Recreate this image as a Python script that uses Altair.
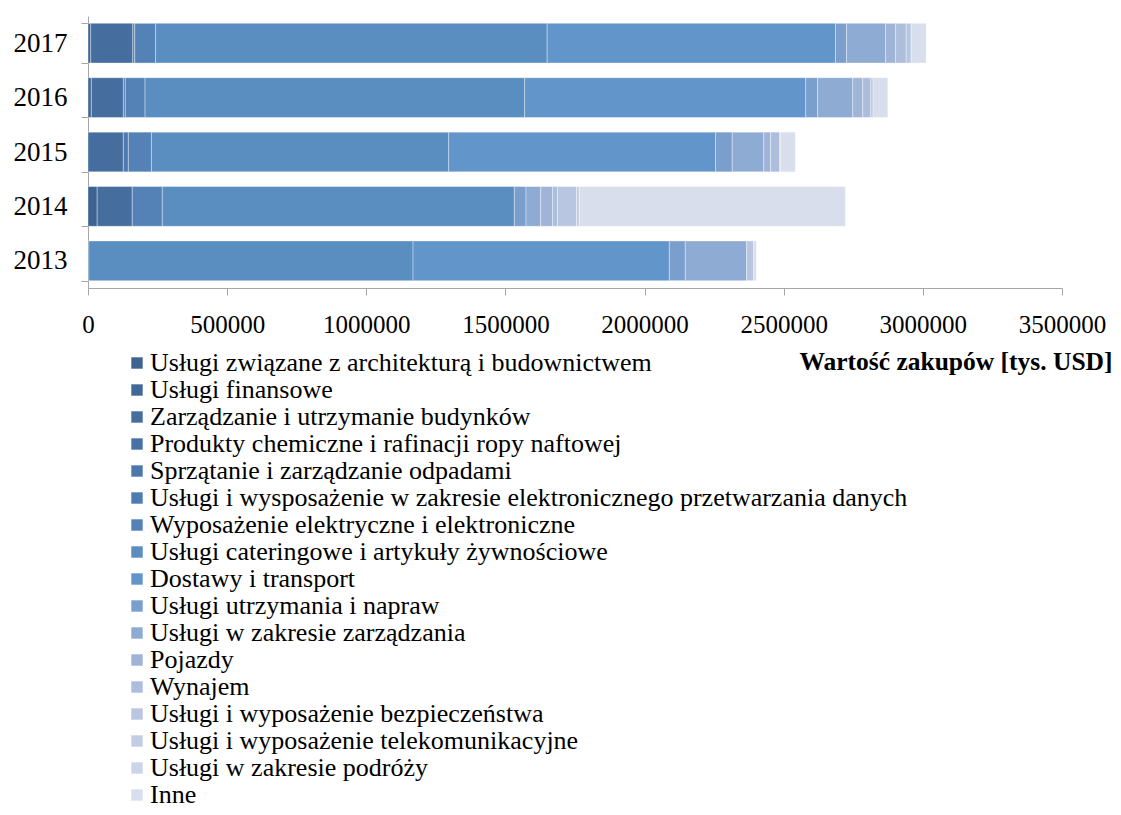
import altair as alt
import pandas as pd

years = ["2013", "2014", "2015", "2016", "2017"]
categories = [
    "Usługi związane z architekturą i budownictwem",
    "Usługi finansowe",
    "Zarządzanie i utrzymanie budynków",
    "Produkty chemiczne i rafinacji ropy naftowej",
    "Sprzątanie i zarządzanie odpadami",
    "Usługi i wysposażenie w zakresie elektronicznego przetwarzania danych",
    "Wyposażenie elektryczne i elektroniczne",
    "Usługi cateringowe i artykuły żywnościowe",
    "Dostawy i transport",
    "Usługi utrzymania i napraw",
    "Usługi w zakresie zarządzania",
    "Pojazdy",
    "Wynajem",
    "Usługi i wyposażenie bezpieczeństwa",
    "Usługi i wyposażenie telekomunikacyjne",
    "Usługi w zakresie podróży",
    "Inne",
]
# values per category for 2013..2017 (tys. USD)
v_arch = [3000, 33000, 0, 0, 0]
v_fin = [0, 0, 0, 12000, 10000]
v_bud = [0, 126000, 127000, 115000, 151000]
v_chem = [0, 0, 0, 0, 0]
v_sprz = [0, 0, 0, 0, 0]
v_edp = [0, 0, 18000, 7000, 7000]
v_elek = [0, 108000, 83000, 71000, 75000]
v_cat = [1165000, 1265000, 1068000, 1364000, 1407000]
v_dost = [921000, 0, 959000, 1010000, 1036000]
v_napr = [57500, 42000, 60000, 43000, 40000]
v_zarz = [220000, 52500, 113000, 126000, 140000]
v_poj = [0, 43000, 25000, 36000, 36000]
v_wyn = [0, 18000, 32000, 29000, 38000]
v_bezp = [25000, 68000, 4000, 8000, 18000]
v_tel = [0, 10000, 0, 0, 0]
v_podr = [0, 0, 0, 0, 0]
v_inne = [10000, 956000, 53000, 53000, 54000]

series = [v_arch, v_fin, v_bud, v_chem, v_sprz, v_edp, v_elek, v_cat, v_dost,
          v_napr, v_zarz, v_poj, v_wyn, v_bezp, v_tel, v_podr, v_inne]

colors = ["#3d6391", "#416897", "#456d9d", "#4872a4", "#4b77aa", "#4f7cb0",
          "#5482b7", "#5a8dc0", "#6295c9", "#7a9fcd", "#8eabd3", "#a0b4d8",
          "#adbedd", "#b8c6e1", "#c2cde5", "#ccd4e8", "#d8deec"]

rows = []
for i, (cat, vals) in enumerate(zip(categories, series)):
    for y, v in zip(years, vals):
        if v > 0:
            rows.append({"year": y, "cat": cat, "value": v, "idx": i})
df = pd.DataFrame(rows)

serif = "Liberation Serif"

chart = alt.Chart(df).mark_bar(
    stroke="white", strokeWidth=0.8, strokeOpacity=0.45
).encode(
    y=alt.Y("year:N", sort=years[::-1],
            scale=alt.Scale(paddingInner=0.27, paddingOuter=0.135),
            axis=alt.Axis(title=None, labelFont=serif, labelFontSize=27,
                          labelColor="#000", labelPadding=14, tickBand="extent",
                          tickSize=7, tickColor="#a6a6a6", domainColor="#a6a6a6",
                          labelBaseline="middle")),
    x=alt.X("value:Q", stack="zero",
            scale=alt.Scale(domain=[0, 3500000], nice=False),
            axis=alt.Axis(values=[0, 500000, 1000000, 1500000, 2000000, 2500000, 3000000, 3500000],
                          format="d", grid=False, labelFont=serif, labelFontSize=25,
                          labelColor="#000", tickSize=7, tickColor="#a6a6a6",
                          domainColor="#a6a6a6", labelBaseline="middle",
                          labelPadding=29, labelFlush=False,
                          title="Wartość zakupów [tys. USD]", titleFont=serif,
                          titleFontSize=25.5, titleFontWeight="bold", titleColor="#000",
                          titleAnchor="end", titleAlign="right", titleBaseline="middle",
                          titleX=1024, titleY=73)),
    color=alt.Color("cat:N", sort=categories,
                    scale=alt.Scale(domain=categories, range=colors),
                    legend=alt.Legend(title=None, orient="none", legendX=36, legendY=334,
                                      direction="vertical", columns=1,
                                      symbolType="square", symbolSize=130,
                                      symbolStrokeWidth=0, labelFont=serif,
                                      labelFontSize=26, labelColor="#000",
                                      labelOffset=0, rowPadding=1, padding=0,
                                      labelLimit=0, symbolOpacity=1)),
    order=alt.Order("idx:Q", sort="ascending"),
).properties(
    width=974, height=272,
    autosize=alt.AutoSizeParams(type="none"),
    padding={"left": 80, "top": 8, "right": 51, "bottom": 519},
).configure_view(stroke=None)

chart.save("out.html", embed_options={"renderer": "svg", "actions": False})
